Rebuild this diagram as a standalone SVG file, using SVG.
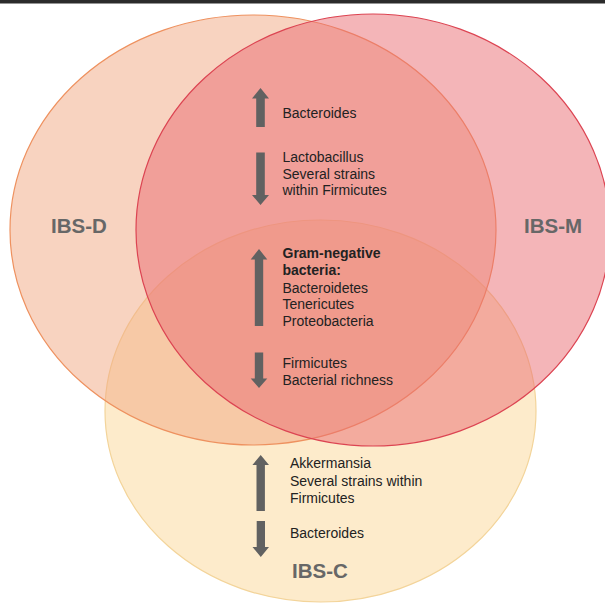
<svg xmlns="http://www.w3.org/2000/svg" width="605" height="603" viewBox="0 0 605 603">
<style>
.set-d{fill:#F1A781;fill-opacity:0.5;stroke:#EE915F;stroke-width:1.2}
.set-m{fill:#E96B71;fill-opacity:0.5;stroke:#DC4452;stroke-width:1.2}
.set-c{fill:#FBD797;fill-opacity:0.5;stroke:#F3D49A;stroke-width:1.2}
.lab{font-family:"Liberation Sans",Arial,sans-serif;font-weight:bold;font-size:20.5px;fill:#676767}
.txt{font-family:"Liberation Sans",Arial,sans-serif;font-size:14px;fill:#222222}
.b{font-weight:bold}
.arr{fill:#616161}
</style>
<rect x="0" y="0" width="605" height="603" fill="#ffffff"/>
<rect x="0" y="0" width="605" height="3.5" fill="#2b2b2b"/>
<g id="ibs-c">
<ellipse class="set-c" cx="320.5" cy="411" rx="215.5" ry="191"/>
<text class="lab" x="292" y="578">IBS-C</text>
</g>
<g id="ibs-d">
<ellipse class="set-d" cx="253" cy="230" rx="243" ry="215"/>
<text class="lab" x="51" y="233">IBS-D</text>
</g>
<g id="ibs-m">
<ellipse class="set-m" cx="373" cy="230" rx="237" ry="216"/>
<text class="lab" x="524" y="233">IBS-M</text>
</g>
<g id="dm-findings">
<polygon class="arr" points="260.5,88 269,98.5 264.8,98.5 264.8,127 256.2,127 256.2,98.5 252,98.5"/>
<text class="txt" x="282.5" y="117.5">Bacteroides</text>
<polygon class="arr" points="256.2,152.5 264.8,152.5 264.8,195 269,195 260.5,205 252,195 256.2,195"/>
<text class="txt" x="282.5" y="161.7">Lactobacillus</text>
<text class="txt" x="282.5" y="178.5">Several strains</text>
<text class="txt" x="282.5" y="195.2">within Firmicutes</text>
</g>
<g id="all-findings">
<polygon class="arr" points="259,249 267.3,259.5 263.2,259.5 263.2,326 254.8,326 254.8,259.5 250.7,259.5"/>
<text class="txt b" x="282.5" y="258.3">Gram-negative</text>
<text class="txt b" x="282.5" y="275.1">bacteria:</text>
<text class="txt" x="282.5" y="292.7">Bacteroidetes</text>
<text class="txt" x="282.5" y="309.4">Tenericutes</text>
<text class="txt" x="282.5" y="326.1">Proteobacteria</text>
<polygon class="arr" points="254.8,352.5 263.2,352.5 263.2,378.5 267.3,378.5 259,388 250.7,378.5 254.8,378.5"/>
<text class="txt" x="282.5" y="367.7">Firmicutes</text>
<text class="txt" x="282.5" y="385">Bacterial richness</text>
</g>
<g id="c-findings">
<polygon class="arr" points="260.7,455 269,465 264.9,465 264.9,511 256.5,511 256.5,465 252.4,465"/>
<text class="txt" x="290" y="468.3">Akkermansia</text>
<text class="txt" x="290" y="486">Several strains within</text>
<text class="txt" x="290" y="502.7">Firmicutes</text>
<polygon class="arr" points="256.7,521 265,521 265,547 269,547 260.8,557 252.5,547 256.7,547"/>
<text class="txt" x="290" y="537.7">Bacteroides</text>
</g>
</svg>
